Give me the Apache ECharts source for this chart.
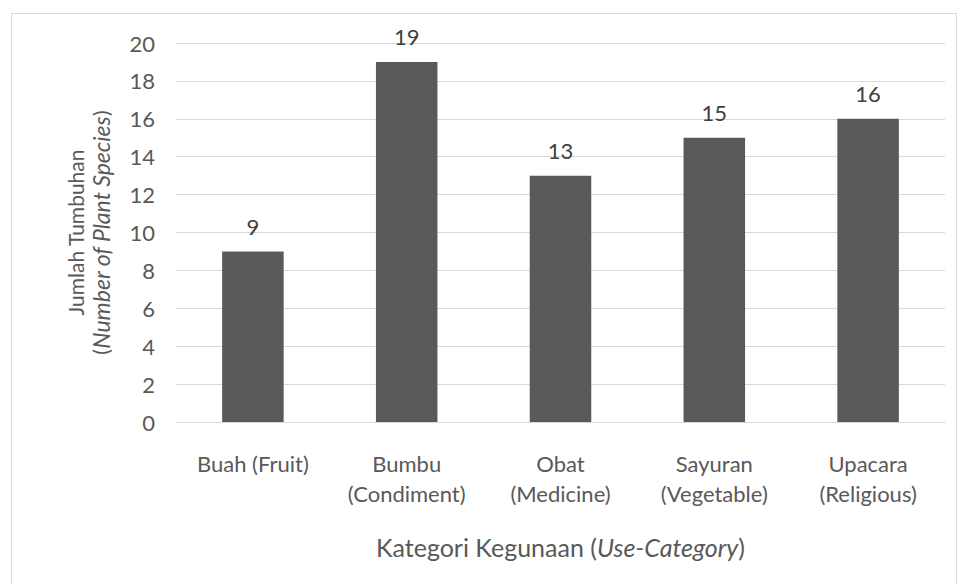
<!DOCTYPE html>
<html>
<head>
<meta charset="utf-8">
<script src="https://cdn.jsdelivr.net/npm/echarts@6/dist/echarts.min.js"></script>
<style>
  html, body { margin: 0; padding: 0; background: #fff; }
  #frame { position: absolute; left: 11px; top: 13px; width: 946px; height: 600px; border: 1px solid #d9d9d9; box-sizing: border-box; }
  #chart { width: 959px; height: 584px; }
</style>
</head>
<body>
<div id="frame"></div>
<div id="chart"></div>
<script>
var categories = ['Buah (Fruit)', 'Bumbu\n(Condiment)', 'Obat\n(Medicine)', 'Sayuran\n(Vegetable)', 'Upacara\n(Religious)'];
var counts = [9, 19, 13, 15, 16];
var yMin = 0, yMax = 20, yStep = 2;

var font = 'Lato, "Open Sans", sans-serif';
var chart = echarts.init(document.getElementById('chart'), null, { renderer: 'svg' });
chart.setOption({
  animation: false,
  grid: { left: 176, right: 14, top: 43, bottom: 162 },
  xAxis: {
    type: 'category',
    data: categories,
    axisTick: { show: false },
    axisLine: { lineStyle: { color: '#d9d9d9' } },
    axisLabel: { color: '#595959', fontSize: 22, fontFamily: font, lineHeight: 30, margin: 26 },
    name: 'Kategori Kegunaan ({i|Use-Category})',
    nameLocation: 'middle',
    nameGap: 112,
    nameTextStyle: {
      color: '#595959', fontSize: 25, fontFamily: font,
      rich: { i: { fontStyle: 'italic', color: '#595959', fontSize: 25, fontFamily: font } }
    }
  },
  yAxis: {
    type: 'value',
    min: yMin, max: yMax, interval: yStep,
    axisLabel: { color: '#595959', fontSize: 22, fontFamily: font, margin: 21 },
    splitLine: { lineStyle: { color: '#d9d9d9' } },
    name: 'Jumlah Tumbuhan\n({i|Number of Plant Species})',
    nameLocation: 'middle',
    nameRotate: 90,
    nameGap: 63,
    nameTextStyle: {
      color: '#595959', fontSize: 21, fontFamily: font, lineHeight: 25,
      rich: { i: { fontStyle: 'italic', color: '#595959', fontSize: 23, fontFamily: font, lineHeight: 25 } }
    }
  },
  series: [{
    type: 'bar',
    data: counts,
    barWidth: '40%',
    itemStyle: { color: '#595959' },
    label: { show: true, position: 'top', distance: 14, color: '#404040', fontSize: 22, fontFamily: font }
  }]
});
</script>
</body>
</html>
